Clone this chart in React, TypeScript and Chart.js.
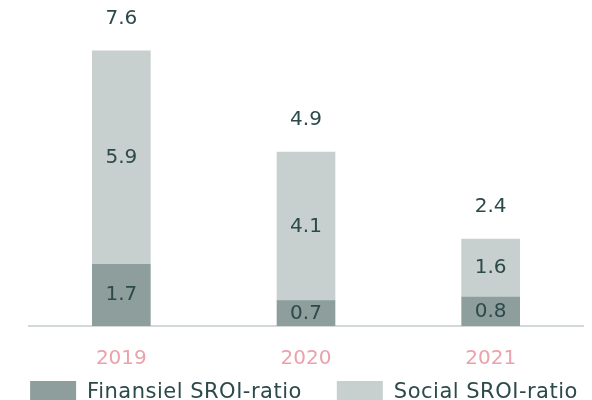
import React, { useEffect, useRef } from "react";
import { Chart, registerables } from "chart.js";

Chart.register(...registerables);

const years = ["2019", "2020", "2021"];
const finansiel = [1.7, 0.7, 0.8];
const social = [5.9, 4.1, 1.6];
const totals = [7.6, 4.9, 2.4];

const FONT = "'DejaVu Sans', sans-serif";
const FSIZE = 20;
const TEXT = "#2c4a49";

const labelPlugin = {
  id: "barLabels",
  afterDatasetsDraw(chart: any) {
    const ctx = chart.ctx;
    ctx.save();
    ctx.font = `${FSIZE}px ${FONT}`;
    ctx.fillStyle = TEXT;
    ctx.textAlign = "center";
    ctx.textBaseline = "middle";
    chart.data.datasets.forEach((ds: any, di: number) => {
      const meta = chart.getDatasetMeta(di);
      meta.data.forEach((el: any, i: number) => {
        const v = ds.data[i];
        const mid = (el.y + el.base) / 2;
        ctx.fillText(v.toFixed(1), el.x, mid);
      });
    });
    const top = chart.getDatasetMeta(chart.data.datasets.length - 1);
    top.data.forEach((el: any, i: number) => {
      ctx.fillText(totals[i].toFixed(1), el.x, el.y - 32);
    });
    ctx.restore();
  },
};

const legendPlugin = {
  id: "customLegend",
  afterDraw(chart: any) {
    const ctx = chart.ctx;
    const boxW = 46;
    const boxH = 21;
    const gap = 11;
    const itemGap = 35;
    ctx.save();
    ctx.font = `21px ${FONT}`;
    try { (ctx as any).letterSpacing = "0.5px"; } catch (e) {}
    const items = chart.data.datasets.map((ds: any) => ({
      label: ds.label,
      color: ds.backgroundColor,
      w: boxW + gap + ctx.measureText(ds.label).width,
    }));
    const total = items.reduce((s: number, it: any) => s + it.w, 0) + itemGap * (items.length - 1);
    const cx = (chart.chartArea.left + chart.chartArea.right) / 2 - 2;
    let x = cx - total / 2;
    const y = chart.chartArea.bottom + 55;
    items.forEach((it: any) => {
      ctx.fillStyle = it.color;
      ctx.fillRect(x, y, boxW, boxH);
      ctx.fillStyle = TEXT;
      ctx.textAlign = "left";
      ctx.textBaseline = "middle";
      ctx.fillText(it.label, x + boxW + gap, y + boxH / 2 + 1);
      x += it.w + itemGap;
    });
    ctx.restore();
  },
};

export default function App() {
  const ref = useRef<HTMLCanvasElement>(null);
  useEffect(() => {
    if (!ref.current) return;
    const chart = new Chart(ref.current, {
      type: "bar",
      data: {
        labels: years,
        datasets: [
          {
            label: "Finansiel SROI-ratio",
            data: finansiel,
            backgroundColor: "#8e9e9c",
            barThickness: 58,
          },
          {
            label: "Social SROI-ratio",
            data: social,
            backgroundColor: "#c8d0cf",
            barThickness: 58,
          },
        ],
      },
      options: {
        animation: false,
        responsive: false,
        maintainAspectRatio: false,
        layout: { padding: { left: 29, right: 9, top: 0, bottom: 8 } },
        plugins: {
          legend: { display: false },
          tooltip: { enabled: false },
        },
        scales: {
          x: {
            stacked: true,
            grid: { display: false, drawTicks: false },
            border: { display: true, color: "#d3d9d8", width: 2 },
            ticks: {
              color: "#eba2aa",
              font: { family: FONT, size: FSIZE },
              padding: 21,
            },
          },
          y: {
            stacked: true,
            display: false,
            min: 0,
            max: 9,
          },
        },
      },
      plugins: [labelPlugin, legendPlugin],
    });
    return () => chart.destroy();
  }, []);
  return (
    <div style={{ position: "fixed", left: 0, top: 0, width: 592, height: 400, overflow: "hidden", background: "#fff" }}>
      <canvas ref={ref} width={592} height={400} style={{ display: "block" }} />
    </div>
  );
}
